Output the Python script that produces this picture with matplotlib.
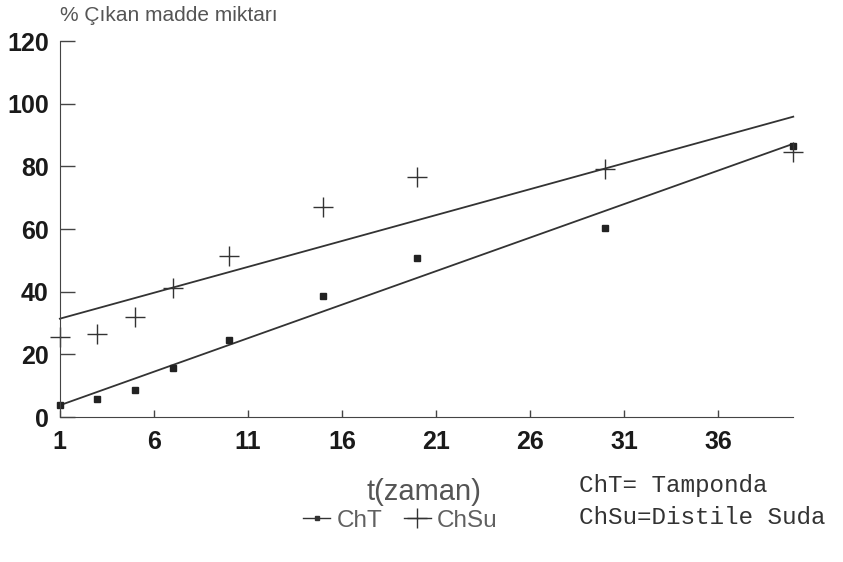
import numpy as np
import matplotlib.pyplot as plt
from matplotlib.lines import Line2D

# zaman noktalari
t = [1, 3, 5, 7, 10, 15, 20, 30, 40]

# % cikan madde miktari
cht = [3.8, 5.7, 8.6, 15.6, 24.6, 38.7, 50.8, 60.4, 86.6]
chsu = [25.6, 26.5, 32.0, 41.2, 51.4, 67.0, 76.7, 79.0, 84.7]

xticks = [1, 6, 11, 16, 21, 26, 31, 36]
yticks = [0, 20, 40, 60, 80, 100, 120]

fig = plt.figure(figsize=(8.43, 5.62), dpi=100)
ax = fig.add_axes([0.071, 0.258, 0.870, 0.669])

# regresyon dogrulari
x = np.array(t, dtype=float)
xl = np.array([t[0], t[-1]], dtype=float)
for y in (cht, chsu):
    m, b = np.polyfit(x, np.array(y), 1)
    ax.plot(xl, m * xl + b, color='#333333', lw=1.3, clip_on=False)

ax.plot(t, cht, ls='none', marker='s', ms=4, color='#222222', clip_on=False)
ax.plot(t, chsu, ls='none', marker='+', ms=14, mew=1.0, color='#333333', clip_on=False)

ax.set_xlim(1, 40)
ax.set_ylim(0, 120)
ax.set_xticks(xticks)
ax.set_yticks(yticks)
for s in ('top', 'right'):
    ax.spines[s].set_visible(False)
ax.spines['left'].set_color('#444444')
ax.spines['bottom'].set_color('#444444')
ax.tick_params(axis='y', direction='in', length=11, width=1, color='#444444', pad=8)
ax.tick_params(axis='x', direction='in', length=5, width=1, color='#444444', pad=9)
for lab in ax.get_xticklabels() + ax.get_yticklabels():
    lab.set_fontfamily('Liberation Sans')
    lab.set_fontweight('bold')
    lab.set_fontsize(18)
    lab.set_color('#1a1a1a')

fig.text(0.071, 0.973, '% Çıkan madde miktarı', fontsize=15, color='#555555',
         family='Liberation Sans', ha='left', va='center')
fig.text(0.503, 0.124, 't(zaman)', fontsize=21, color='#555555',
         family='Liberation Sans', ha='center', va='center')

fig.text(0.687, 0.137, 'ChT= Tamponda', fontsize=17.5, color='#333333',
         family='Liberation Mono', ha='left', va='center')
fig.text(0.687, 0.080, 'ChSu=Distile Suda', fontsize=17.5, color='#333333',
         family='Liberation Mono', ha='left', va='center')

handles = [Line2D([], [], color='#333333', lw=1, marker='s', ms=3),
           Line2D([], [], color='#333333', lw=1, marker='+', ms=14)]
leg = fig.legend(handles, ['ChT', 'ChSu'], loc='center', bbox_to_anchor=(0.475, 0.073),
                 ncol=2, frameon=False, handlelength=1.1, handletextpad=0.25,
                 columnspacing=0.9, prop={'family': 'Liberation Sans', 'size': 17.5})
for txt in leg.get_texts():
    txt.set_color('#606060')

fig.savefig('out.png', dpi=100)
